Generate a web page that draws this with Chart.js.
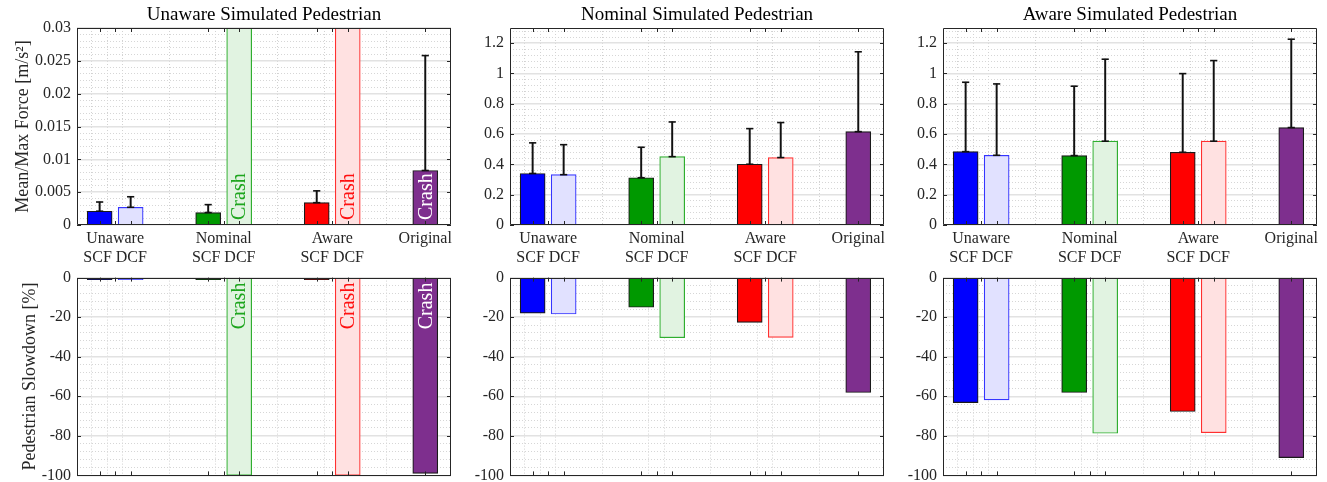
<!DOCTYPE html>
<html>
<head>
<meta charset="utf-8">
<script src="https://cdn.jsdelivr.net/npm/chart.js"></script>
<style>
  body { margin: 0; background: #fff; }
  #wrap { position: relative; width: 1327px; height: 482px; overflow: hidden; }
  canvas { position: absolute; }
</style>
</head>
<body>
<div id="wrap">
  <canvas id="forceU" width="460" height="270" style="left:0px;top:0px"></canvas>
  <canvas id="forceN" width="433" height="270" style="left:460px;top:0px"></canvas>
  <canvas id="forceA" width="434" height="270" style="left:893px;top:0px"></canvas>
  <canvas id="slowU" width="460" height="229" style="left:0px;top:262px"></canvas>
  <canvas id="slowN" width="433" height="229" style="left:460px;top:262px"></canvas>
  <canvas id="slowA" width="434" height="229" style="left:893px;top:262px"></canvas>
</div>
<script>
// bars: Unaware SCF/DCF, Nominal SCF/DCF, Aware SCF/DCF, Original
const barX = [1, 2, 4.5, 5.5, 8, 9, 11.5];
const groupTicks = [1.5, 5, 8.5, 11.5];
const groupLabels = [['Unaware', 'SCF DCF'], ['Nominal', 'SCF DCF'], ['Aware', 'SCF DCF'], 'Original'];

// mean/max force and top of error bar (null = no error bar)
const forceUnaware    = [0.0021, 0.0027, 0.0019, 0.03, 0.0034, 0.03, 0.0083];
const forceUnawareErr = [0.0035, 0.0043, 0.0031, null, 0.0052, null, 0.0258];
const forceNominal    = [0.34, 0.332, 0.312, 0.451, 0.401, 0.445, 0.616];
const forceNominalErr = [0.542, 0.53, 0.513, 0.68, 0.636, 0.676, 1.143];
const forceAware      = [0.484, 0.46, 0.458, 0.553, 0.48, 0.553, 0.643];
const forceAwareErr   = [0.942, 0.931, 0.916, 1.094, 0.999, 1.085, 1.226];

// pedestrian slowdown [%]
const slowUnaware = [-1, -1, -1, -100, -1, -100, -99];
const slowNominal = [-18, -18.4, -15, -30.4, -22.6, -30.2, -58.1];
const slowAware   = [-63.2, -61.8, -58.1, -78.7, -67.7, -78.4, -91];

// bars marked "Crash"
const crashBars = [3, 5, 6];
const crashWord = 'Crash';

// y ticks: labelled step / grid step
const forceTicks = {min: 0, max: 0.03, major: 0.005, minor: 0.001};
const forceTicksBig = {min: 0, max: 1.3, major: 0.2, minor: 0.04};
const slowTicks = {min: -100, max: 0, major: 20, minor: 4};

const FONT = "'Liberation Serif', 'DejaVu Serif', serif";
const fillColors = ['#0000ff', '#e1e1ff', '#009900', '#e1f3e1', '#ff0000', '#ffe1e1', '#7e2f8e'];
const edgeColors = ['#1a1a1a', '#3535ff', '#1a1a1a', '#2fae2f', '#1a1a1a', '#ff3030', '#1a1a1a'];
const crashColors = {3: '#1ea51e', 5: '#ff1010', 6: '#ffffff'};

const xTickValues = [...new Set([...barX, ...groupTicks])].sort((a, b) => a - b);

function isMajor(v, step) {
  const r = v / step;
  return Math.abs(r - Math.round(r)) < 1e-6;
}
function fmt(v) {
  return String(parseFloat(v.toFixed(4)));
}

// box around the axes + inward tick marks
const framePlugin = {
  id: 'frame',
  afterDatasetsDraw(chart, args, opts) {
    const {ctx, chartArea: a, scales: {x, y}} = chart;
    ctx.save();
    ctx.strokeStyle = '#262626';
    ctx.lineWidth = 1;
    ctx.beginPath();
    ctx.rect(Math.round(a.left) + 0.5, Math.round(a.top) + 0.5, Math.round(a.width) - 1, Math.round(a.height) - 1);
    y.ticks.forEach(t => {
      if (!isMajor(t.value, opts.major)) return;
      const py = Math.round(y.getPixelForValue(t.value)) + 0.5;
      ctx.moveTo(a.left, py); ctx.lineTo(a.left + 4, py);
      ctx.moveTo(a.right - 4, py); ctx.lineTo(a.right, py);
    });
    x.ticks.forEach(t => {
      const px = Math.round(x.getPixelForValue(t.value)) + 0.5;
      ctx.moveTo(px, a.top); ctx.lineTo(px, a.top + 4);
      ctx.moveTo(px, a.bottom - 4); ctx.lineTo(px, a.bottom);
    });
    ctx.stroke();
    ctx.restore();
  }
};

// vertical "Crash" text inside the crashed bars
const crashPlugin = {
  id: 'crash',
  afterDatasetsDraw(chart, args, opts) {
    if (!opts.items || !opts.items.length) return;
    const {ctx, scales: {x, y}} = chart;
    const base = y.getPixelForValue(0);
    ctx.save();
    ctx.font = '20px ' + FONT;
    ctx.textBaseline = 'middle';
    opts.items.forEach(i => {
      ctx.save();
      ctx.translate(x.getPixelForValue(barX[i]) + 1, opts.down ? base + 5 : base - 5);
      ctx.rotate(-Math.PI / 2);
      ctx.textAlign = opts.down ? 'right' : 'left';
      ctx.fillStyle = crashColors[i];
      ctx.fillText(crashWord, 0, 0);
      ctx.restore();
    });
    ctx.restore();
  }
};

Chart.register(framePlugin, crashPlugin);

function panel(id, o) {
  const topRow = !!o.title;
  const bars = o.values.map((v, i) => ({x: barX[i], y: v}));
  const whisk = [], caps = [];
  (o.err || []).forEach((e, i) => {
    if (e == null) return;
    whisk.push({x: barX[i], y: [o.values[i], e]});
    caps.push({x: barX[i], y: e}, {x: barX[i], y: o.values[i]});
  });
  const tk = o.ticks;

  new Chart(document.getElementById(id), {
    type: 'bar',
    data: {
      datasets: [
        {data: bars, backgroundColor: fillColors, borderColor: edgeColors, borderWidth: 1.2,
         barThickness: 25, grouped: false, order: 3},
        {data: whisk, backgroundColor: '#111', borderWidth: 0, barThickness: 1.3, grouped: false, order: 2},
        {type: 'line', data: caps, showLine: false, pointStyle: 'line', pointRadius: 3.6,
         pointBorderWidth: 1.6, pointBorderColor: '#111', pointBackgroundColor: '#111', order: 1}
      ]
    },
    options: {
      responsive: false,
      animation: false,
      events: [],
      layout: {padding: {left: 0, right: o.padRight, top: 0, bottom: 0}},
      plugins: {
        legend: {display: false},
        tooltip: {enabled: false},
        title: {
          display: topRow, text: o.title, fullSize: false, color: '#000',
          font: {family: FONT, size: 19, weight: 'normal', lineHeight: 1.2},
          padding: {top: 3.5, bottom: 1.7}
        },
        frame: {major: tk.major},
        crash: {items: o.crash || [], down: !topRow}
      },
      scales: {
        x: {
          type: 'linear', min: 0.27, max: 12.33, offset: false,
          afterBuildTicks: ax => { ax.ticks = xTickValues.map(v => ({value: v})); },
          afterFit: ax => { ax.height = topRow ? 45 : 7; },
          ticks: {
            display: topRow, autoSkip: false, maxRotation: 0, minRotation: 0, padding: 5,
            color: '#262626', font: {family: FONT, size: 16, lineHeight: 1.15},
            callback: v => { const k = groupTicks.indexOf(v); return k >= 0 ? groupLabels[k] : ''; }
          },
          grid: {drawTicks: false, color: '#d2d2d2', lineWidth: 1},
          border: {display: false, dash: [1, 2]}
        },
        y: {
          min: tk.min, max: tk.max,
          afterBuildTicks: ax => {
            const t = [];
            for (let k = 0; tk.min + k * tk.minor <= tk.max + 1e-9; k++) {
              t.push({value: parseFloat((tk.min + k * tk.minor).toFixed(6))});
            }
            ax.ticks = t;
          },
          afterFit: ax => { ax.width = o.axisW; },
          ticks: {
            autoSkip: false, padding: 6, color: '#262626', font: {family: FONT, size: 16},
            callback: v => isMajor(v, tk.major) ? fmt(v) : ''
          },
          grid: {
            drawTicks: false,
            color: c => (c.tick && isMajor(c.tick.value, tk.major)) ? '#e2e2e2' : '#d6d6d6',
            lineWidth: c => (c.tick && isMajor(c.tick.value, tk.major)) ? 1.5 : 1
          },
          border: {
            display: false,
            dash: c => (c.tick && !isMajor(c.tick.value, tk.major)) ? [1, 2] : []
          },
          title: {
            display: !!o.yTitle, text: o.yTitle, color: '#262626',
            font: {family: FONT, size: 18, lineHeight: 1.2},
            padding: {top: o.yTitlePad || 0, bottom: 0}
          }
        }
      }
    }
  });
}

panel('forceU', {title: 'Unaware Simulated Pedestrian', yTitle: 'Mean/Max Force [m/s\u00b2]', yTitlePad: 12,
  values: forceUnaware, err: forceUnawareErr, crash: crashBars, ticks: forceTicks, axisW: 77, padRight: 9});
panel('forceN', {title: 'Nominal Simulated Pedestrian',
  values: forceNominal, err: forceNominalErr, ticks: forceTicksBig, axisW: 50, padRight: 9});
panel('forceA', {title: 'Aware Simulated Pedestrian',
  values: forceAware, err: forceAwareErr, ticks: forceTicksBig, axisW: 50, padRight: 10});
panel('slowU', {yTitle: 'Pedestrian Slowdown [%]', yTitlePad: 19,
  values: slowUnaware, crash: crashBars, ticks: slowTicks, axisW: 77, padRight: 9});
panel('slowN', {values: slowNominal, ticks: slowTicks, axisW: 50, padRight: 9});
panel('slowA', {values: slowAware, ticks: slowTicks, axisW: 50, padRight: 10});
</script>
</body>
</html>
